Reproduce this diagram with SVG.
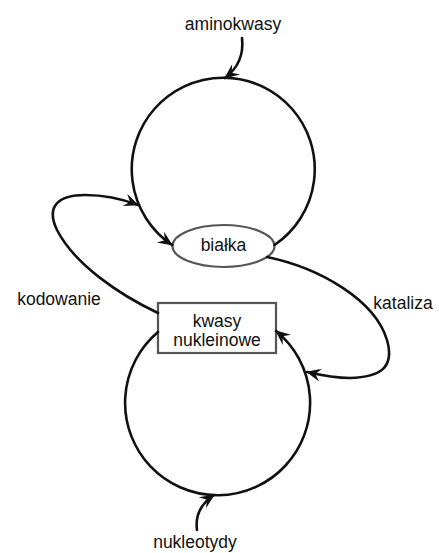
<svg xmlns="http://www.w3.org/2000/svg" width="439" height="553" viewBox="0 0 439 553">
  <style>
    .lbl { font-family: "Liberation Sans", Arial, sans-serif; font-size: 17.5px; fill: #111; text-anchor: middle; }
    .conn { fill: none; stroke: #111; stroke-width: 2.6; stroke-linecap: round; }
    .node { fill: #fff; stroke: #555; stroke-width: 2.2; }
  </style>
  <defs>
    <marker id="ah" markerUnits="userSpaceOnUse" markerWidth="18" markerHeight="18" viewBox="-15 -9 18 18" refX="0" refY="0" orient="auto">
      <path d="M1,0 L-14,-6.5 L-8.5,0 L-14,6.5 Z" fill="#111"/>
    </marker>
  </defs>
  <rect width="439" height="553" fill="#fff"/>

  <g id="bialka">
    <ellipse class="node" cx="223.5" cy="246" rx="51" ry="21"/>
    <text class="lbl" x="223.5" y="251">białka</text>
  </g>
  <g id="kwasy-nukleinowe">
    <rect class="node" x="158" y="303" width="118" height="50"/>
    <text class="lbl" x="217" y="327">kwasy</text>
    <text class="lbl" x="217" y="346">nukleinowe</text>
  </g>
  <g id="aminokwasy">
    <text class="lbl" x="233" y="30">aminokwasy</text>
  </g>
  <g id="nukleotydy">
    <text class="lbl" x="195" y="548">nukleotydy</text>
  </g>
  <g id="kodowanie">
    <text class="lbl" x="59" y="305">kodowanie</text>
  </g>
  <g id="kataliza">
    <text class="lbl" x="403" y="309">kataliza</text>
  </g>

  <g id="connectors">
    <path class="conn" d="M274.5,245 A91.5,91.5 0 1 0 172,245" marker-end="url(#ah)"/>
    <path class="conn" d="M158,332 A92.5,92.5 0 1 0 276,331" marker-end="url(#ah)"/>
    <path class="conn" d="M242,38 C244,55 238,68 225,78" marker-end="url(#ah)"/>
    <path class="conn" d="M197,530 C195,515 202,503 214,495" marker-end="url(#ah)"/>
    <path class="conn" d="M158,313 C120,295 75,265 57,230 C45,205 60,195 85,195 C105,195 125,200 138,205" marker-end="url(#ah)"/>
    <path class="conn" d="M267,257 C320,268 375,300 387,340 C395,368 380,377 350,378 C335,378 320,375 307,372" marker-end="url(#ah)"/>
  </g>
</svg>
